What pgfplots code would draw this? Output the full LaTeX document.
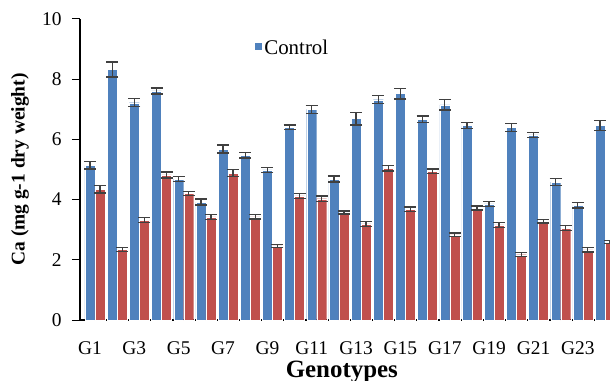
\documentclass[border=0pt]{standalone}
\usepackage{pgfplots}
\pgfplotsset{compat=1.18}
\usepackage{pgfplotstable}
\usepackage{fontspec}
\setmainfont{Liberation Serif}
\definecolor{cblue}{HTML}{4F81BD}
\definecolor{cred}{HTML}{C0504D}
\definecolor{errc}{HTML}{404040}
\pgfplotstableread{
x c ce s se
1 5.14 0.12 4.35 0.13
2 8.32 0.25 2.34 0.06
3 7.22 0.13 3.32 0.08
4 7.61 0.10 4.82 0.10
5 4.68 0.08 4.21 0.07
6 3.92 0.10 3.43 0.08
7 5.68 0.13 4.88 0.12
8 5.47 0.09 3.43 0.07
9 4.99 0.08 2.46 0.04
10 6.41 0.07 4.12 0.09
11 7.00 0.13 4.03 0.09
12 4.68 0.10 3.57 0.05
13 6.69 0.21 3.19 0.08
14 7.32 0.13 5.04 0.09
15 7.52 0.18 3.68 0.07
16 6.67 0.11 4.94 0.08
17 7.15 0.17 2.83 0.06
18 6.46 0.10 3.72 0.07
19 3.86 0.08 3.16 0.08
20 6.40 0.13 2.17 0.07
21 6.15 0.08 3.28 0.06
22 4.58 0.12 3.05 0.08
23 3.81 0.09 2.33 0.07
24 6.46 0.17 2.59 0.06
}\datatable
\begin{document}
\begin{tikzpicture}
\clip (-80bp,-61bp) rectangle (530bp,320bp);
\begin{axis}[
  at={(0,0)}, anchor=south west,
  scale only axis, width=530bp, height=301bp,
  ybar=0pt, bar width=10bp,
  xmin=0.55, xmax=24.45, ymin=0, ymax=10,
  axis x line=bottom, axis y line=left,
  axis line style={line width=1.2pt, -},
  xtick={1,3,...,23},
  xticklabels={G1,G3,G5,G7,G9,G11,G13,G15,G17,G19,G21,G23},
  x tick style={draw=none},
  ytick={0,2,...,10},
  y tick style={line width=1pt, black},
  tick align=outside, major tick length=8bp,
  /pgf/number format/assume math mode=true,
  tick label style={font=\fontsize{19.5}{21}\selectfont},
  xticklabel style={anchor=base, yshift=-26bp},
  yticklabel style={xshift=-7bp},
  xlabel={\textbf{Genotypes}},
  ylabel={\textbf{Ca (mg g-1 dry weight)}},
  xlabel style={font=\fontsize{25}{27}\selectfont, at={(axis description cs:0.494,0)}, anchor=base, yshift=-57bp},
  ylabel style={font=\fontsize{19.5}{22}\selectfont, at={(axis description cs:-0.113,0.5)}, anchor=center, rotate=0},
  legend style={at={(axis description cs:0.328,0.905)}, anchor=west, draw=none, fill=none,
    font=\fontsize{21}{23}\selectfont, inner sep=0pt},
  legend image code/.code={\fill[#1] (0bp,-3bp) rectangle (8bp,5bp);},
  error bars/error bar style={errc, line width=1.3pt},
  error bars/error mark options={errc, line width=1.3pt, rotate=90, mark size=6bp},
]
\addplot[fill=cblue, draw=white, line width=0.3pt,
  error bars/.cd, y dir=both, y explicit]
  table[x=x, y=c, y error=ce] {\datatable};
\addlegendentry{Control}
\addplot[fill=cred, draw=white, line width=0.3pt, forget plot,
  error bars/.cd, y dir=both, y explicit]
  table[x=x, y=s, y error=se] {\datatable};
\end{axis}
\end{tikzpicture}
\end{document}
